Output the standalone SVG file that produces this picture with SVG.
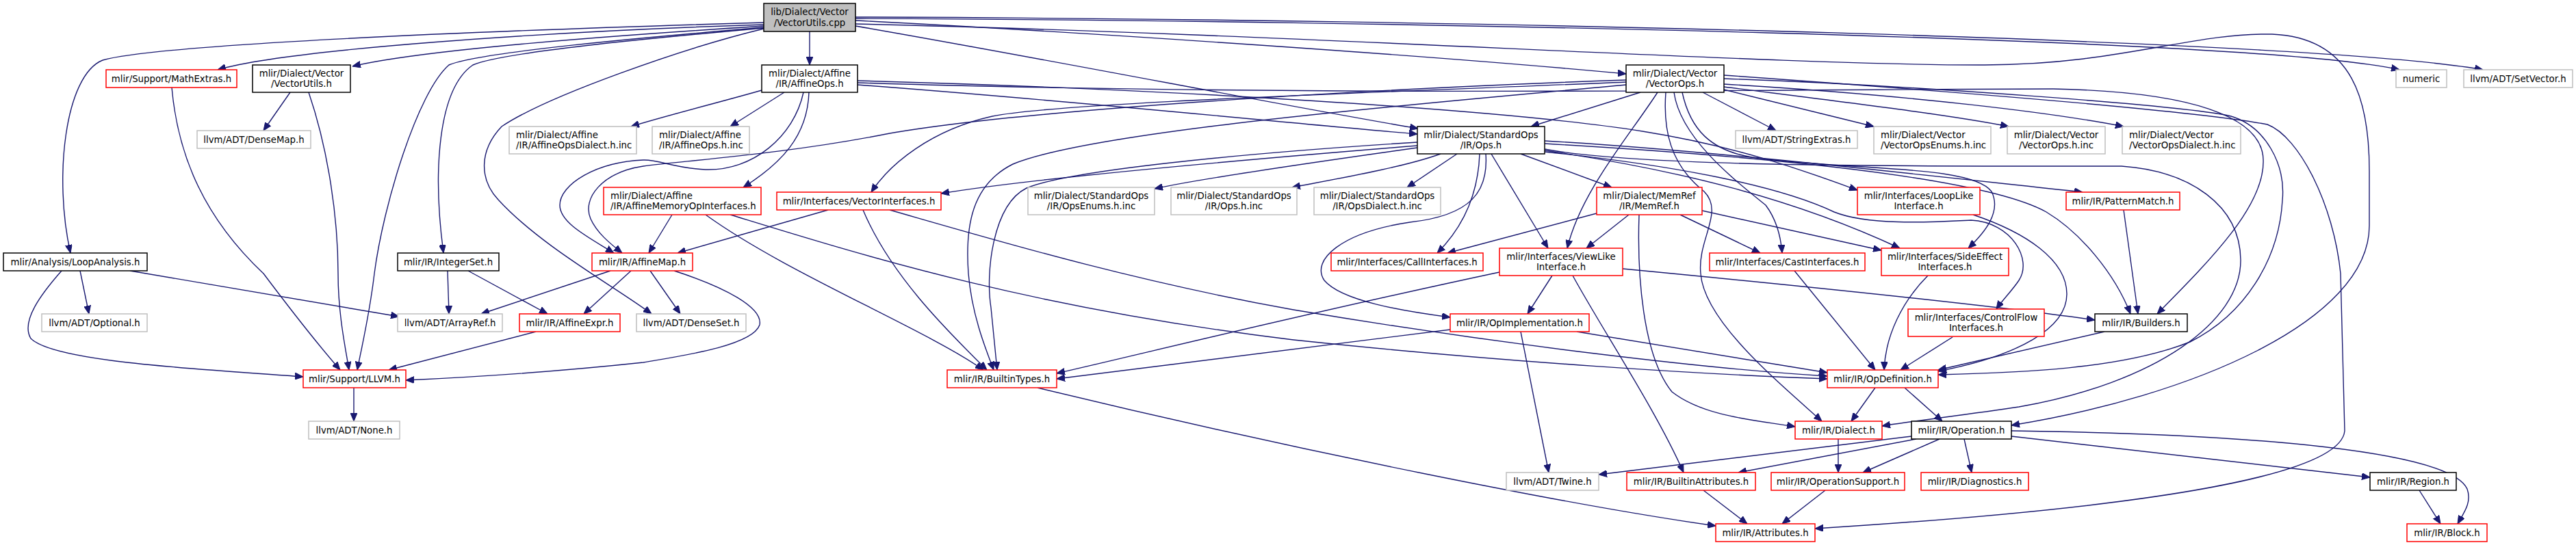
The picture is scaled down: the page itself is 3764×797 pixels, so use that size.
<svg xmlns="http://www.w3.org/2000/svg" width="3764" height="797" viewBox="0 0 3764 797">
<style>
rect{fill:#ffffff;stroke-width:1.5}
.k{stroke:#000000}
.r{stroke:#ff0000}
.g{stroke:#bfbfbf}
.root{fill:#bfbfbf;stroke:#000000}
text{font-family:"DejaVu Sans","Liberation Sans",sans-serif;font-size:13.3px;fill:#000000;text-anchor:middle}
text.l{text-anchor:start}
#edges path{fill:none;stroke:#191970;stroke-width:1.4;marker-end:url(#a)}
</style>
<defs>
<marker id="a" markerWidth="12" markerHeight="10" refX="12" refY="5" orient="auto" markerUnits="userSpaceOnUse"><path d="M0,0 L12,5 L0,10 z" fill="#191970" stroke="#191970" stroke-width="1"/></marker>
</defs>
<rect x="0" y="0" width="3764" height="797" style="fill:#ffffff;stroke:none"/>
<g id="edges">
<path d="M1116,33 C700,45 230,65 150,88 C95,110 78,260 103,370"/>
<path d="M1116,36 C800,46 420,72 318,102"/>
<path d="M1116,38 C900,52 620,72 515,97"/>
<path d="M1116,41 C950,56 735,76 691,95 C640,130 632,250 648,370"/>
<path d="M1116,40 C950,54 700,76 656,95 C610,135 560,300 547,400 C540,460 528,510 522,541"/>
<path d="M1116,42 C1000,70 800,140 733,185 C700,220 700,262 728,292 C790,360 900,420 952,459"/>
<path d="M1183,46 L1183,95"/>
<path d="M1250,38 C1550,90 1850,150 2072,188"/>
<path d="M1250,30 C1600,48 2100,82 2376,108"/>
<path d="M1250,27 C2000,30 3300,55 3506,102"/>
<path d="M1250,25 C2200,28 3400,60 3628,102"/>
<path d="M1250,35 C1900,50 2600,96 2900,95 C3100,94 3200,48 3320,50 C3440,55 3462,150 3462,250 L3462,330 C3462,470 3200,580 2939,622"/>
<path d="M1113,132 C1050,150 970,170 922,185"/>
<path d="M1146,135 L1067,185"/>
<path d="M1182,135 C1180,200 1140,240 1086,274"/>
<path d="M1174,135 C1160,200 1100,250 1031,248 C985,246 962,233 940,234 C870,237 818,270 818,300 C818,326 860,347 897,370"/>
<path d="M1253,124 C1600,150 1900,182 2071,196"/>
<path d="M1253,118 C1700,130 2200,160 2400,192 C2550,216 2650,255 2714,278"/>
<path d="M1253,121 C1900,142 2700,130 3000,130 C3200,134 3305,170 3307,233 C3310,300 3230,380 3152,459"/>
<path d="M2397,135 L2237,185"/>
<path d="M2422,135 C2380,200 2310,280 2290,363"/>
<path d="M2434,135 C2430,190 2440,240 2490,280 C2520,310 2480,350 2485,400 C2490,470 2600,560 2662,616"/>
<path d="M2446,135 C2455,200 2530,260 2580,300 C2595,320 2602,345 2604,370"/>
<path d="M2458,135 C2470,190 2500,220 2560,230 C2700,250 2880,240 2910,280 C2925,310 2900,340 2876,363"/>
<path d="M2488,135 L2595,191"/>
<path d="M2519,131 L2738,185"/>
<path d="M2519,127 C2700,150 2850,168 2935,185"/>
<path d="M2519,123 C2800,140 3000,165 3103,185"/>
<path d="M2376,117 C2000,130 1500,160 1300,195 C1150,225 1000,235 940,243 C880,252 850,290 863,320 C872,340 890,355 909,370"/>
<path d="M2376,120 C2000,136 1550,150 1450,170 C1360,190 1300,240 1273,281"/>
<path d="M2376,124 C2100,150 1600,190 1480,240 C1420,270 1410,330 1415,400 C1420,460 1440,510 1452,541"/>
<path d="M2519,110 C2800,130 3200,160 3313,182 C3360,200 3410,300 3420,400 L3426,630 C3420,700 3100,745 2652,773"/>
<path d="M2519,115 C2800,125 3200,155 3260,170 C3310,185 3340,240 3335,293 C3330,380 3280,460 3200,500 C3100,540 2950,545 2832,548"/>
<path d="M2257,218 C2400,245 2800,243 3100,243 C3200,250 3273,300 3274,380 C3275,470 3150,560 2950,595 C2870,607 2800,615 2750,623"/>
<path d="M2071,213 C1800,235 1500,262 1375,283"/>
<path d="M2071,216 C1900,240 1750,262 1687,276"/>
<path d="M2105,225 C2050,245 1950,262 1888,274"/>
<path d="M2129,225 L2056,274"/>
<path d="M2162,225 C2160,280 2140,330 2100,370"/>
<path d="M2171,225 C2175,280 2150,315 2060,325 C1960,340 1915,380 1935,410 C1960,440 2050,455 2119,464"/>
<path d="M2179,225 L2262,363"/>
<path d="M2222,225 L2355,274"/>
<path d="M2257,220 C2450,248 2620,290 2776,363"/>
<path d="M2257,222 C2450,242 2600,272 2680,310 C2730,330 2820,325 2880,322 C2940,325 2970,380 2950,410 C2940,425 2925,440 2917,452"/>
<path d="M2257,210 C2600,230 2900,260 2990,310 C3040,340 3090,400 3113,459"/>
<path d="M2257,206 C2500,220 2800,255 3043,281"/>
<path d="M2071,208 C1800,225 1560,250 1500,275 C1450,300 1440,400 1448,450 C1452,490 1455,520 1457,541"/>
<path d="M2333,312 L2115,370"/>
<path d="M2380,314 L2318,363"/>
<path d="M2395,314 C2392,400 2400,520 2443,573 C2490,610 2570,615 2623,624"/>
<path d="M2455,314 L2572,370"/>
<path d="M2487,308 L2749,366"/>
<path d="M2268,403 L2232,459"/>
<path d="M2298,403 C2340,480 2420,600 2460,691"/>
<path d="M2371,393 C2600,415 2900,445 3061,468"/>
<path d="M2191,398 C1900,460 1700,510 1544,546"/>
<path d="M2222,485 L2263,691"/>
<path d="M2304,485 L2670,545"/>
<path d="M2119,482 C1900,510 1700,535 1544,554"/>
<path d="M1067,314 C1250,370 1500,450 1890,497 C2200,530 2500,548 2670,554"/>
<path d="M1031,314 C1150,400 1350,480 1437,541"/>
<path d="M982,314 L948,370"/>
<path d="M1300,307 C1450,350 1650,410 1890,453 C2200,505 2500,540 2670,550"/>
<path d="M1261,307 C1300,400 1380,480 1442,541"/>
<path d="M1210,307 L990,370"/>
<path d="M424,135 L385,191"/>
<path d="M451,135 C480,220 494,320 494,400 C494,460 505,510 510,541"/>
<path d="M251,128 C260,230 300,320 385,400 C430,460 470,510 497,541"/>
<path d="M90,396 C60,430 30,470 45,495 C80,530 300,540 443,551"/>
<path d="M117,396 L130,459"/>
<path d="M190,396 L583,463"/>
<path d="M654,396 L656,459"/>
<path d="M684,396 L800,459"/>
<path d="M892,396 L703,459"/>
<path d="M922,396 L853,459"/>
<path d="M950,396 L994,459"/>
<path d="M985,396 C1060,420 1115,450 1110,475 C1100,505 1000,520 940,530 C800,545 680,552 593,556"/>
<path d="M783,485 L568,541"/>
<path d="M517,567 L517,616"/>
<path d="M1516,567 C1900,660 2300,740 2507,769"/>
<path d="M2740,567 L2705,616"/>
<path d="M2783,567 L2838,616"/>
<path d="M2686,642 L2686,691"/>
<path d="M2793,638 L2336,694"/>
<path d="M2800,642 L2540,691"/>
<path d="M2834,642 L2722,691"/>
<path d="M2870,642 L2881,691"/>
<path d="M2939,638 L3463,698"/>
<path d="M2939,630 C3300,635 3580,660 3605,715 C3612,735 3600,750 3591,766"/>
<path d="M3535,717 L3566,766"/>
<path d="M2489,717 L2553,766"/>
<path d="M2667,717 L2604,766"/>
<path d="M2853,493 L2777,541"/>
<path d="M2817,403 C2780,440 2755,490 2753,541"/>
<path d="M2622,396 L2740,541"/>
<path d="M2883,314 C2960,340 3020,380 3020,430 C3020,480 2950,520 2832,543"/>
<path d="M3103,307 L3124,459"/>
<path d="M3075,485 L2832,541"/>
</g>
<g id="root"><rect class="root" x="1116" y="5" width="134" height="41"/><text x="1183" y="22">lib/Dialect/Vector</text><text x="1183" y="37.5">/VectorUtils.cpp</text></g>
<g id="math"><rect class="r" x="155" y="102" width="191" height="26"/><text x="250.5" y="119.5">mlir/Support/MathExtras.h</text></g>
<g id="vutils"><rect class="k" x="369" y="95" width="143" height="40"/><text x="440.5" y="111.5">mlir/Dialect/Vector</text><text x="440.5" y="126.5">/VectorUtils.h</text></g>
<g id="affops"><rect class="k" x="1113" y="95" width="140" height="40"/><text x="1183" y="111.5">mlir/Dialect/Affine</text><text x="1183" y="126.5">/IR/AffineOps.h</text></g>
<g id="vops"><rect class="k" x="2376" y="95" width="143" height="40"/><text x="2447.5" y="111.5">mlir/Dialect/Vector</text><text x="2447.5" y="126.5">/VectorOps.h</text></g>
<g id="numeric"><rect class="g" x="3501" y="102" width="74" height="26"/><text x="3538" y="119.5">numeric</text></g>
<g id="setvec"><rect class="g" x="3600" y="102" width="159" height="26"/><text x="3679.5" y="119.5">llvm/ADT/SetVector.h</text></g>
<g id="densemap"><rect class="g" x="288" y="191" width="166" height="26"/><text x="371" y="208.5">llvm/ADT/DenseMap.h</text></g>
<g id="affdial"><rect class="g" x="744" y="185" width="186" height="40"/><text class="l" x="754" y="201.5">mlir/Dialect/Affine</text><text class="l" x="754" y="216.5">/IR/AffineOpsDialect.h.inc</text></g>
<g id="affinc"><rect class="g" x="953" y="185" width="142" height="40"/><text class="l" x="963" y="201.5">mlir/Dialect/Affine</text><text class="l" x="963" y="216.5">/IR/AffineOps.h.inc</text></g>
<g id="stdops"><rect class="k" x="2071" y="185" width="186" height="40"/><text x="2164" y="201.5">mlir/Dialect/StandardOps</text><text x="2164" y="216.5">/IR/Ops.h</text></g>
<g id="strext"><rect class="g" x="2536" y="191" width="178" height="26"/><text x="2625" y="208.5">llvm/ADT/StringExtras.h</text></g>
<g id="venums"><rect class="g" x="2738" y="185" width="171" height="40"/><text class="l" x="2748" y="201.5">mlir/Dialect/Vector</text><text class="l" x="2748" y="216.5">/VectorOpsEnums.h.inc</text></g>
<g id="vopsinc"><rect class="g" x="2933" y="185" width="143" height="40"/><text x="3004.5" y="201.5">mlir/Dialect/Vector</text><text x="3004.5" y="216.5">/VectorOps.h.inc</text></g>
<g id="vdial"><rect class="g" x="3101" y="185" width="173" height="40"/><text class="l" x="3111" y="201.5">mlir/Dialect/Vector</text><text class="l" x="3111" y="216.5">/VectorOpsDialect.h.inc</text></g>
<g id="affmem"><rect class="r" x="882" y="274" width="230" height="40"/><text class="l" x="892" y="290.5">mlir/Dialect/Affine</text><text class="l" x="892" y="305.5">/IR/AffineMemoryOpInterfaces.h</text></g>
<g id="vint"><rect class="r" x="1135" y="281" width="240" height="26"/><text x="1255" y="298.5">mlir/Interfaces/VectorInterfaces.h</text></g>
<g id="opsenums"><rect class="g" x="1502" y="274" width="185" height="40"/><text x="1594.5" y="290.5">mlir/Dialect/StandardOps</text><text x="1594.5" y="305.5">/IR/OpsEnums.h.inc</text></g>
<g id="opsinc"><rect class="g" x="1711" y="274" width="184" height="40"/><text x="1803" y="290.5">mlir/Dialect/StandardOps</text><text x="1803" y="305.5">/IR/Ops.h.inc</text></g>
<g id="opsdial"><rect class="g" x="1920" y="274" width="185" height="40"/><text x="2012.5" y="290.5">mlir/Dialect/StandardOps</text><text x="2012.5" y="305.5">/IR/OpsDialect.h.inc</text></g>
<g id="memref"><rect class="r" x="2333" y="274" width="154" height="40"/><text x="2410" y="290.5">mlir/Dialect/MemRef</text><text x="2410" y="305.5">/IR/MemRef.h</text></g>
<g id="looplike"><rect class="r" x="2714" y="274" width="179" height="40"/><text x="2803.5" y="290.5">mlir/Interfaces/LoopLike</text><text x="2803.5" y="305.5">Interface.h</text></g>
<g id="pattern"><rect class="r" x="3019" y="281" width="166" height="26"/><text x="3102" y="298.5">mlir/IR/PatternMatch.h</text></g>
<g id="loopan"><rect class="k" x="5" y="370" width="210" height="26"/><text x="110" y="387.5">mlir/Analysis/LoopAnalysis.h</text></g>
<g id="intset"><rect class="k" x="581" y="370" width="148" height="26"/><text x="655" y="387.5">mlir/IR/IntegerSet.h</text></g>
<g id="affmap"><rect class="r" x="865" y="370" width="147" height="26"/><text x="938.5" y="387.5">mlir/IR/AffineMap.h</text></g>
<g id="call"><rect class="r" x="1945" y="370" width="222" height="26"/><text x="2056" y="387.5">mlir/Interfaces/CallInterfaces.h</text></g>
<g id="view"><rect class="r" x="2191" y="363" width="180" height="40"/><text x="2281" y="379.5">mlir/Interfaces/ViewLike</text><text x="2281" y="394.5">Interface.h</text></g>
<g id="cast"><rect class="r" x="2498" y="370" width="227" height="26"/><text x="2611.5" y="387.5">mlir/Interfaces/CastInterfaces.h</text></g>
<g id="side"><rect class="r" x="2749" y="363" width="186" height="40"/><text x="2842" y="379.5">mlir/Interfaces/SideEffect</text><text x="2842" y="394.5">Interfaces.h</text></g>
<g id="optional"><rect class="g" x="61" y="459" width="154" height="26"/><text x="138" y="476.5">llvm/ADT/Optional.h</text></g>
<g id="arrayref"><rect class="g" x="581" y="459" width="153" height="26"/><text x="657.5" y="476.5">llvm/ADT/ArrayRef.h</text></g>
<g id="affexpr"><rect class="r" x="759" y="459" width="147" height="26"/><text x="832.5" y="476.5">mlir/IR/AffineExpr.h</text></g>
<g id="denseset"><rect class="g" x="930" y="459" width="160" height="26"/><text x="1010" y="476.5">llvm/ADT/DenseSet.h</text></g>
<g id="opimpl"><rect class="r" x="2119" y="459" width="203" height="26"/><text x="2220.5" y="476.5">mlir/IR/OpImplementation.h</text></g>
<g id="cflow"><rect class="r" x="2788" y="452" width="199" height="40"/><text x="2887.5" y="468.5">mlir/Interfaces/ControlFlow</text><text x="2887.5" y="483.5">Interfaces.h</text></g>
<g id="builders"><rect class="k" x="3061" y="459" width="135" height="26"/><text x="3128.5" y="476.5">mlir/IR/Builders.h</text></g>
<g id="llvm"><rect class="r" x="443" y="541" width="150" height="26"/><text x="518" y="558.5">mlir/Support/LLVM.h</text></g>
<g id="btypes"><rect class="r" x="1384" y="541" width="160" height="26"/><text x="1464" y="558.5">mlir/IR/BuiltinTypes.h</text></g>
<g id="opdef"><rect class="r" x="2670" y="541" width="162" height="26"/><text x="2751" y="558.5">mlir/IR/OpDefinition.h</text></g>
<g id="none"><rect class="g" x="451" y="616" width="133" height="26"/><text x="517.5" y="633.5">llvm/ADT/None.h</text></g>
<g id="dialect"><rect class="r" x="2623" y="616" width="127" height="26"/><text x="2686.5" y="633.5">mlir/IR/Dialect.h</text></g>
<g id="operation"><rect class="k" x="2793" y="616" width="146" height="26"/><text x="2866" y="633.5">mlir/IR/Operation.h</text></g>
<g id="twine"><rect class="g" x="2201" y="691" width="135" height="26"/><text x="2268.5" y="708.5">llvm/ADT/Twine.h</text></g>
<g id="battr"><rect class="r" x="2377" y="691" width="188" height="26"/><text x="2471" y="708.5">mlir/IR/BuiltinAttributes.h</text></g>
<g id="opsupp"><rect class="r" x="2588" y="691" width="195" height="26"/><text x="2685.5" y="708.5">mlir/IR/OperationSupport.h</text></g>
<g id="diag"><rect class="r" x="2807" y="691" width="157" height="26"/><text x="2885.5" y="708.5">mlir/IR/Diagnostics.h</text></g>
<g id="region"><rect class="k" x="3463" y="691" width="126" height="26"/><text x="3526" y="708.5">mlir/IR/Region.h</text></g>
<g id="attr"><rect class="r" x="2507" y="766" width="145" height="26"/><text x="2579.5" y="783.5">mlir/IR/Attributes.h</text></g>
<g id="block"><rect class="r" x="3517" y="766" width="117" height="26"/><text x="3575.5" y="783.5">mlir/IR/Block.h</text></g>
</svg>
